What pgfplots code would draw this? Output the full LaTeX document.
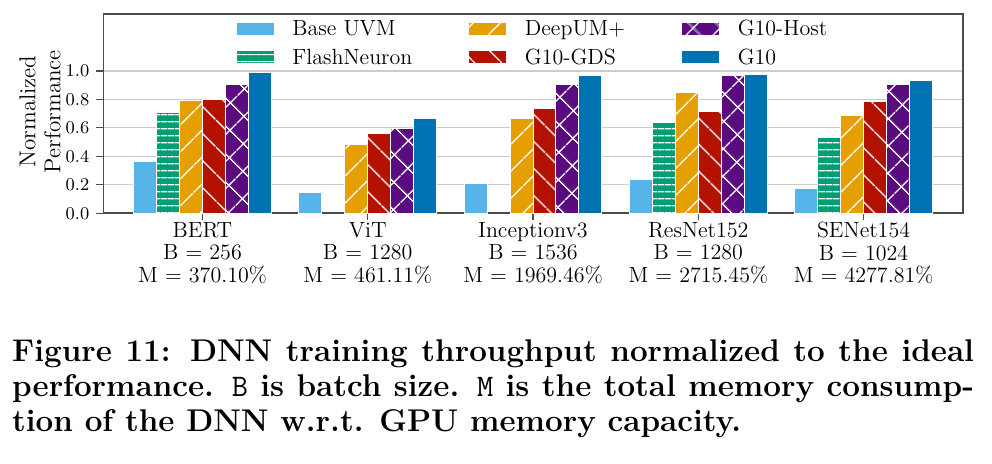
\documentclass[border=0pt]{standalone}
\usepackage{fontspec}
\usepackage{pgfplots}
\pgfplotsset{compat=1.18}
\usetikzlibrary{patterns.meta}
\definecolor{cBase}{HTML}{56B4E9}
\definecolor{cFlash}{HTML}{009E73}
\definecolor{cDeep}{HTML}{E69F00}
\definecolor{cGDS}{HTML}{B31200}
\definecolor{cHost}{HTML}{5A0B80}
\definecolor{cG10}{HTML}{0072B2}
\pgfplotsset{mylegend/.style={legend image code/.code={\draw[##1] (0bp,-2.3bp) rectangle (19bp,4.2bp);}}}
\begin{document}
\begin{tikzpicture}
\path[use as bounding box] (0,0) rectangle (496bp,232bp);
\begin{axis}[
  at={(51.65bp,125.35bp)}, anchor=south west,
  scale only axis, width=429.7bp, height=99.65bp,
  ybar=0pt, bar width=0.139,
  xmin=-0.6, xmax=4.6, ymin=0, ymax=1.4,
  xtick={0,1,2,3,4},
  xticklabels={{BERT\\B = 256\\M = 370.10\%},{ViT\\B = 1280\\M = 461.11\%},{Inceptionv3\\B = 1536\\M = 1969.46\%},{ResNet152\\B = 1280\\M = 2715.45\%},{SENet154\\B = 1024\\M = 4277.81\%}},
  xticklabel style={align=center, font=\fontsize{11bp}{11.25bp}\selectfont, yshift=2.5bp},
  ytick={0,0.2,0.4,0.6,0.8,1.0},
  yticklabel style={font=\fontsize{9bp}{10bp}\selectfont, /pgf/number format/fixed, /pgf/number format/precision=1, /pgf/number format/fixed zerofill},
  tick pos=left, tick align=outside, major tick length=3.5bp,
  tick style={black!70, line width=0.6bp},
  axis line style={black!70, line width=0.8bp},
  ymajorgrids, grid style={black!20, line width=0.6bp},
  ylabel={Normalized\\Performance},
  ylabel style={align=center, font=\fontsize{11.5bp}{12.5bp}\selectfont, at={(axis description cs:-0.0737,0.51)}, anchor=center},
  legend style={at={(axis description cs:0.154,0.966)}, anchor=north west, draw=none, fill=none, inner sep=0pt, outer sep=0pt,
    font=\fontsize{11bp}{12bp}\selectfont, row sep=4.5bp,
    /tikz/every odd column/.append style={column sep=8.8bp},
    /tikz/every even column/.append style={column sep=28bp},
    nodes={inner sep=0pt, text height=7.5bp, text depth=2.2bp}},
  legend columns=2, transpose legend, legend cell align=left,
]
\addplot[fill=cBase, draw=white, line width=0.5bp, mylegend] coordinates {(0,0.367) (1,0.145) (2,0.208) (3,0.234) (4,0.175)};
\addplot[fill=cFlash, draw=white, line width=0.5bp, mylegend, postaction={pattern={Lines[angle=0,distance=3.6bp,line width=0.6bp]}, pattern color=white}] coordinates {(0,0.71) (3,0.638) (4,0.53)};
\addplot[fill=cDeep, draw=white, line width=0.5bp, mylegend, postaction={pattern={Lines[angle=45,distance=10bp,line width=0.7bp]}, pattern color=white}] coordinates {(0,0.79) (1,0.486) (2,0.668) (3,0.848) (4,0.684)};
\addplot[fill=cGDS, draw=white, line width=0.5bp, mylegend, postaction={pattern={Lines[angle=-45,distance=10bp,line width=0.7bp]}, pattern color=white}] coordinates {(0,0.80) (1,0.561) (2,0.738) (3,0.717) (4,0.783)};
\addplot[fill=cHost, draw=white, line width=0.5bp, mylegend, postaction={pattern={Hatch[angle=45,distance=10bp,line width=0.7bp]}, pattern color=white}] coordinates {(0,0.906) (1,0.593) (2,0.906) (3,0.968) (4,0.904)};
\addplot[fill=cG10, draw=white, line width=0.5bp, mylegend] coordinates {(0,0.99) (1,0.666) (2,0.97) (3,0.977) (4,0.93)};
\legend{Base UVM, FlashNeuron, DeepUM+, G10-GDS, G10-Host, G10}
\end{axis}
\begin{scope}[every node/.style={anchor=base west, inner sep=0pt, font=\fontsize{15.7bp}{17.5bp}\selectfont\bfseries}]
\node at (5.85bp,51.15bp) {\makebox[481bp][s]{Figure 11: DNN training throughput normalized to the ideal}};
\node at (5.85bp,33.65bp) {\makebox[481bp][s]{performance. {\mdseries\ttfamily B} is batch size. {\mdseries\ttfamily M} is the total memory consump-}};
\node at (5.85bp,16.15bp) {tion of the DNN w.r.t. GPU memory capacity.};
\end{scope}
\end{tikzpicture}
\end{document}
